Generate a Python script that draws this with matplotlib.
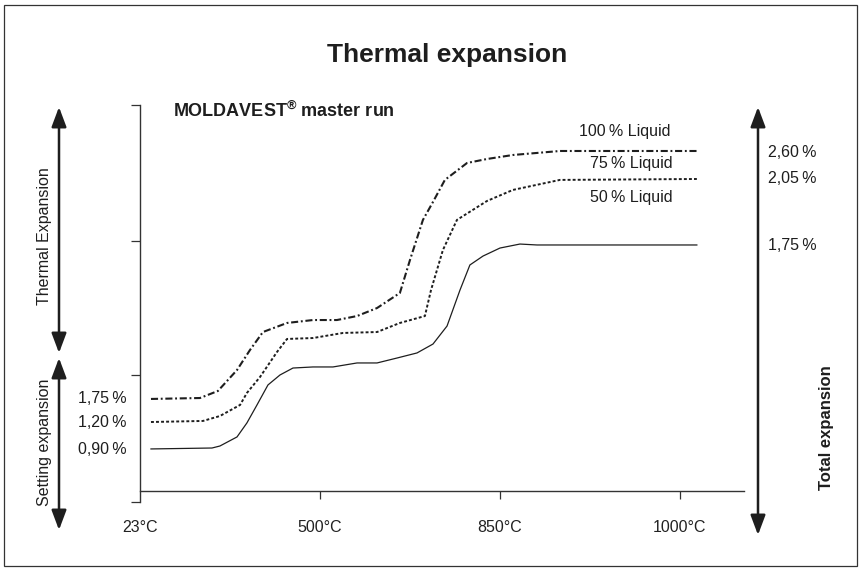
import matplotlib
matplotlib.use("Agg")
import matplotlib.pyplot as plt
from matplotlib.patches import FancyArrowPatch, Rectangle

plt.rcParams['font.family'] = ['Liberation Sans', 'DejaVu Sans']

# ---- data (x: position on temperature scale, 0=23°C,1=500°C,2=850°C,3=1000°C; y: relative expansion units)
x_tick_pos = [0, 1, 2, 3]
x_tick_labels = ["23\u00b0C", "500\u00b0C", "850\u00b0C", "1000\u00b0C"]
y_tick_pos = [0, 0.953, 1.958, 2.978]

x_100 = [0.061, 0.333, 0.433, 0.539, 0.611, 0.683, 0.817, 0.961, 1.094, 1.206, 1.317,
         1.444, 1.500, 1.572, 1.628, 1.694, 1.817, 1.928, 2.072, 2.333, 3.094]
y_100 = [0.773, 0.780, 0.833, 0.990, 1.140, 1.275, 1.343, 1.365, 1.365, 1.395, 1.455,
         1.568, 1.815, 2.116, 2.251, 2.416, 2.543, 2.573, 2.603, 2.633, 2.633]

x_75 = [0.061, 0.350, 0.444, 0.556, 0.594, 0.667, 0.761, 0.817, 0.961, 1.128, 1.317,
        1.444, 1.583, 1.617, 1.683, 1.761, 1.822, 1.928, 2.072, 2.333, 3.094]
y_75 = [0.600, 0.608, 0.645, 0.728, 0.818, 0.938, 1.125, 1.223, 1.230, 1.268, 1.275,
        1.343, 1.395, 1.590, 1.890, 2.116, 2.168, 2.258, 2.341, 2.416, 2.423]

x_50 = [0.061, 0.400, 0.444, 0.539, 0.594, 0.650, 0.711, 0.778, 0.850, 0.961, 1.072,
        1.206, 1.317, 1.428, 1.539, 1.628, 1.706, 1.778, 1.833, 1.906, 2.000, 2.111,
        2.206, 3.094]
y_50 = [0.398, 0.405, 0.420, 0.488, 0.593, 0.728, 0.878, 0.953, 1.005, 1.013, 1.013,
        1.043, 1.043, 1.080, 1.118, 1.185, 1.320, 1.590, 1.778, 1.845, 1.905, 1.935,
        1.928, 1.928]

series_labels = ["100\u2009% Liquid", "75\u2009% Liquid", "50\u2009% Liquid"]
start_labels = ["1,75\u2009%", "1,20\u2009%", "0,90\u2009%"]
end_labels = ["2,60\u2009%", "2,05\u2009%", "1,75\u2009%"]

W, H = 859, 575
fig = plt.figure(figsize=(W / 100, H / 100), dpi=100)
fig.patch.set_facecolor("white")


def fx(px):
    return px / W


def fy(py):
    return 1 - py / H


ink = "#1e1e1e"

ax = fig.add_axes([fx(140), fy(502), fx(744) - fx(140), fy(105) - fy(502)])
ax.set_xlim(0, 3.356)
ax.set_ylim(0, 2.978)
ax.patch.set_alpha(0)

ax.plot(x_100, y_100, color=ink, lw=1.5, linestyle=(0, (3.4, 1.3, 0.9, 1.3)),
        solid_joinstyle="round")
ax.plot(x_75, y_75, color=ink, lw=1.4, linestyle=(0, (1.5, 1.1)))
ax.plot(x_50, y_50, color=ink, lw=0.9)

for s in ["top", "right"]:
    ax.spines[s].set_visible(False)
ax.spines["bottom"].set_position(("data", 0.0825))
ax.spines["bottom"].set_color("#333333")
ax.spines["left"].set_color("#333333")
ax.spines["bottom"].set_linewidth(1.0)
ax.spines["left"].set_linewidth(1.0)

ax.set_xticks(x_tick_pos)
ax.set_xticklabels(x_tick_labels, fontsize=11.5, color="#222222")
ax.tick_params(axis="x", direction="out", length=5.8, width=0.9, colors="#333333",
               pad=15, labelcolor="#222222")
ax.xaxis.get_major_ticks()[0].tick1line.set_visible(False)

ax.set_yticks(y_tick_pos)
ax.set_yticklabels([])
ax.tick_params(axis="y", direction="out", length=6.5, width=0.9, colors="#333333")

# ---- texts
fig.text(fx(447), fy(62), "Thermal expansion", fontsize=19, fontweight="bold",
         ha="center", va="baseline", color=ink)
fig.text(fx(173), fy(117), "MOLDAVEST$^{\\mathregular{\u00ae}}$ master run",
         fontsize=13, fontweight="bold", ha="left", va="baseline", color=ink)

for lab, cx, by in zip(series_labels, [625, 631, 631], [136, 168, 202]):
    fig.text(fx(cx), fy(by), lab, fontsize=11.5, ha="center", va="baseline", color=ink)

for lab, by in zip(start_labels, [403, 427, 454]):
    fig.text(fx(127), fy(by), lab, fontsize=11.5, ha="right", va="baseline", color=ink)

for lab, by in zip(end_labels, [157, 183, 250]):
    fig.text(fx(768), fy(by), lab, fontsize=11.5, ha="left", va="baseline", color=ink)

fig.text(fx(45), fy(236), "Thermal Expansion", fontsize=11.5, rotation=90,
         ha="center", va="center", color=ink)
fig.text(fx(45), fy(442), "Setting expansion", fontsize=11.5, rotation=90,
         ha="center", va="center", color=ink)
fig.text(fx(827), fy(428), "Total expansion", fontsize=12, fontweight="bold", rotation=90,
         ha="center", va="center", color=ink)

# ---- arrows
def arrow(x, y0, y1):
    a = FancyArrowPatch((fx(x), fy(y0)), (fx(x), fy(y1)), transform=fig.transFigure,
                        arrowstyle="<|-|>,head_length=1.2,head_width=0.45",
                        mutation_scale=10, lw=1.8, color=ink, shrinkA=0, shrinkB=0)
    fig.add_artist(a)


arrow(59, 107, 353)
arrow(59, 358, 530)
arrow(758, 107, 535)

# ---- frame
fig.add_artist(Rectangle((fx(4), fy(566)), fx(857) - fx(4), fy(5) - fy(566),
                         transform=fig.transFigure, fill=False, lw=0.9,
                         edgecolor="#333333"))

fig.savefig("out.png", dpi=100, facecolor="white")
